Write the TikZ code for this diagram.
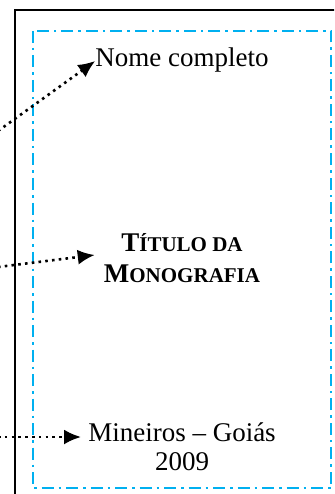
\documentclass[tikz,border=0pt]{standalone}
\usepackage{fontspec}
\setmainfont{Liberation Serif}
\usetikzlibrary{arrows.meta}
\definecolor{frameblue}{RGB}{0,176,240}
\tikzset{
  txt/.style={inner sep=0pt, font=\fontsize{27}{31}\selectfont},
  pointer/.style={line width=2.6pt, dash pattern=on 2.6pt off 4.2pt, -{Latex[length=17pt,width=15pt]}},
}
\begin{document}
\begin{tikzpicture}[x=1pt,y=-1pt]
\useasboundingbox (0,0) rectangle (334,494);
\clip (0,0) rectangle (334,494);
% black page frame
\draw[line width=2pt] (15,500) -- (15,10) -- (340,10);
% blue dash-dot margin
\draw[frameblue, line width=2pt, dash pattern=on 12pt off 5pt on 2.5pt off 5pt]
  (33,31) rectangle (331,488);
% texts
\node[txt, anchor=base] (nome) at (182,67) {Nome completo};
\node[txt, align=center, font=\bfseries\fontsize{27}{31}\selectfont] (titulo) at (182,258)
  {T{\fontsize{21}{21}\selectfont ÍTULO DA}\\
   M{\fontsize{21}{21}\selectfont ONOGRAFIA}};
\node[txt, anchor=base] (cidade) at (182,441) {Mineiros – Goiás};
\node[txt, anchor=base] (ano) at (182,470) {2009};
% pointers
\coordinate (s1) at (-2,131);
\coordinate (s2) at (-2,267);
\coordinate (s3) at (-2,437);
\draw[pointer] (s1) -- ([xshift=0pt]nome.west |- 0,61);
\draw[pointer] (s2) -- ([xshift=-9pt]titulo.west |- 0,255);
\draw[pointer] (s3) -- ([xshift=-7pt]cidade.west |- s3);
\end{tikzpicture}
\end{document}
